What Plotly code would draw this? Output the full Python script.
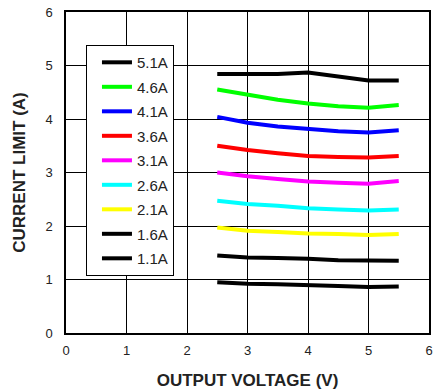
import plotly.graph_objects as go

vout = [2.5, 3.0, 3.5, 4.0, 4.5, 5.0, 5.5]
labels = ["5.1A", "4.6A", "4.1A", "3.6A", "3.1A", "2.6A", "2.1A", "1.6A", "1.1A"]
colors = ["#000000", "#00ff00", "#0000ff", "#ff0000", "#ff00ff", "#00ffff", "#ffff00", "#000000", "#000000"]
i_5_1 = [4.84, 4.84, 4.84, 4.87, 4.80, 4.72, 4.72]
i_4_6 = [4.55, 4.45, 4.36, 4.29, 4.24, 4.21, 4.26]
i_4_1 = [4.04, 3.93, 3.86, 3.81, 3.77, 3.75, 3.79]
i_3_6 = [3.50, 3.42, 3.36, 3.31, 3.29, 3.28, 3.31]
i_3_1 = [3.00, 2.93, 2.88, 2.83, 2.81, 2.79, 2.84]
i_2_6 = [2.47, 2.41, 2.38, 2.33, 2.31, 2.29, 2.31]
i_2_1 = [1.97, 1.91, 1.89, 1.86, 1.85, 1.83, 1.85]
i_1_6 = [1.45, 1.41, 1.40, 1.39, 1.36, 1.36, 1.35]
i_1_1 = [0.95, 0.92, 0.91, 0.90, 0.88, 0.86, 0.87]
series = [i_5_1, i_4_6, i_4_1, i_3_6, i_3_1, i_2_6, i_2_1, i_1_6, i_1_1]
ticks = [0, 1, 2, 3, 4, 5, 6]

FONT = "Arial, Liberation Sans, sans-serif"
fig = go.Figure()
for k, (lab, col, ys) in enumerate(zip(labels, colors, series)):
    fig.add_trace(go.Scatter(x=vout, y=ys, mode="lines", name=lab,
                             legendgroup=f"g{k}",
                             line=dict(color=col, width=4)))

axis_common = dict(range=[0, 6], tickvals=ticks, showgrid=True, gridcolor="black",
                   gridwidth=1, showline=True, linecolor="black", linewidth=1.5,
                   mirror=True, zeroline=False, ticks="", fixedrange=True,
                   tickfont=dict(family=FONT, size=13, color="#222"))
fig.update_layout(
    width=435, height=391,
    margin=dict(l=66, r=2, t=12, b=58),
    paper_bgcolor="white", plot_bgcolor="white",
    font=dict(family=FONT, size=13, color="#222"),
    xaxis=dict(**axis_common, ticklabelstandoff=5,
               title=dict(text="<b>OUTPUT VOLTAGE (V)</b>",
               font=dict(family=FONT, size=17, color="#222"), standoff=17)),
    yaxis=dict(**axis_common, ticklabelstandoff=9,
               title=dict(text="<b>CURRENT LIMIT (A)</b>",
               font=dict(family=FONT, size=17, color="#222"), standoff=15)),
    legend=dict(x=0.055, y=0.897, xanchor="left", yanchor="top",
                bgcolor="white", bordercolor="black", borderwidth=1,
                font=dict(family=FONT, size=15, color="#222"), itemwidth=30,
                indentation=10, tracegroupgap=2),
    showlegend=True,
)
fig.write_html("out.html")
